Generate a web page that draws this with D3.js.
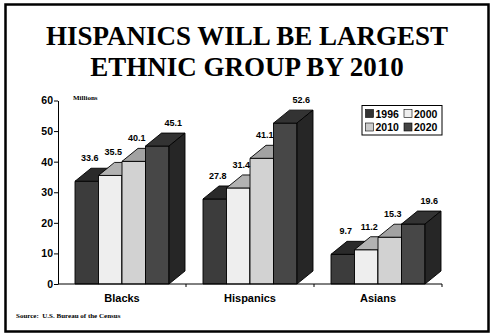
<!DOCTYPE html>
<html>
<head>
<meta charset="utf-8">
<script src="https://cdn.jsdelivr.net/npm/d3@7/dist/d3.min.js"></script>
<style>
  html, body { margin: 0; padding: 0; background: #fff; }
  svg { display: block; }
  .serif { font-family: "Liberation Serif", Tinos, "Nimbus Roman", "Times New Roman", Times, "DejaVu Serif", serif; font-weight: bold; }
  .sans { font-family: "Liberation Sans", Arimo, Arial, Helvetica, sans-serif; font-weight: bold; }
</style>
</head>
<body>
<svg id="chart" width="491" height="333"></svg>
<script>
// Population by group, millions
const categories = ["Blacks", "Hispanics", "Asians"];
const years = ["1996", "2000", "2010", "2020"];
const values1996 = [33.6, 27.8, 9.7];
const values2000 = [35.5, 31.4, 11.2];
const values2010 = [40.1, 41.1, 15.3];
const values2020 = [45.1, 52.6, 19.6];
const yTicks = [0, 10, 20, 30, 40, 50, 60];

const seriesValues = [values1996, values2000, values2010, values2020];

// face shading per series: front, top, side
const frontFill = ["#3c3c3c", "#eeeeee", "#d2d2d2", "#474747"];
const topFill   = ["#2a2a2a", "#b2b2b2", "#a2a2a2", "#333333"];
const sideFill  = ["#222222", "#9a9a9a", "#8c8c8c", "#262626"];
const legendFill = ["#333333", "#eeeeee", "#cccccc", "#444444"];

const svg = d3.select("#chart");

// outer frame
svg.append("rect")
  .attr("x", 5.5).attr("y", 4.5)
  .attr("width", 483).attr("height", 327)
  .attr("fill", "#fff").attr("stroke", "#000").attr("stroke-width", 2.5);

// title
const title = svg.append("text")
  .attr("class", "serif")
  .attr("text-anchor", "middle")
  .attr("font-size", 27)
  .attr("fill", "#000");
title.append("tspan").attr("x", 247).attr("y", 45).text("HISPANICS WILL BE LARGEST");
title.append("tspan").attr("x", 247).attr("y", 76).text("ETHNIC GROUP BY 2010");

// scales
const x = d3.scaleBand().domain(categories).range([58, 442]).padding(0);
const inner = d3.scaleBand().domain(years).range([17, 17 + 94]).padding(0);
const y = d3.scaleLinear().domain([0, 60]).range([284, 100.5]);

const dx = 16, dy = 13;

// bars
const plot = svg.append("g");
categories.forEach((cat, ci) => {
  years.forEach((yr, si) => {
    const v = seriesValues[si][ci];
    const x0 = x(cat) + inner(yr);
    const w = inner.bandwidth();
    const yt = y(v), yb = y(0);
    const g = plot.append("g").attr("stroke", "#000").attr("stroke-width", 0.9).attr("stroke-linejoin", "round");
    g.append("rect")
      .attr("x", x0).attr("y", yt).attr("width", w).attr("height", yb - yt)
      .attr("fill", frontFill[si]);
    g.append("path")
      .attr("d", `M${x0},${yt}L${x0 + dx},${yt - dy}L${x0 + w + dx},${yt - dy}L${x0 + w},${yt}Z`)
      .attr("fill", topFill[si]);
    g.append("path")
      .attr("d", `M${x0 + w},${yt}L${x0 + w + dx},${yt - dy}L${x0 + w + dx},${yb - dy}L${x0 + w},${yb}Z`)
      .attr("fill", sideFill[si]);
  });
});

// value labels
categories.forEach((cat, ci) => {
  years.forEach((yr, si) => {
    const v = seriesValues[si][ci];
    const cx = x(cat) + inner(yr) + inner.bandwidth() / 2 + (si === 3 ? dx : 3);
    svg.append("text")
      .attr("class", "sans")
      .attr("x", cx).attr("y", y(v) - dy - 7)
      .attr("text-anchor", "middle")
      .attr("font-size", 9)
      .attr("fill", "#000")
      .text(v.toFixed(1));
  });
});

// y axis
const yAxis = svg.append("g")
  .attr("transform", "translate(58,0)")
  .call(d3.axisLeft(y).tickValues(yTicks).tickSize(4).tickSizeOuter(0).tickPadding(1));
yAxis.attr("font-family", null).attr("font-size", null);
yAxis.select(".domain").attr("stroke", "#000");
yAxis.selectAll(".tick line").attr("stroke", "#000");
yAxis.selectAll("text")
  .attr("class", "sans").attr("font-size", 10.5).attr("fill", "#000");

// category axis along the baseline
const xAxis = svg.append("g")
  .attr("transform", `translate(0,${y(0)})`)
  .call(d3.axisBottom(x).tickSize(0).tickPadding(10));
xAxis.attr("font-family", null).attr("font-size", null);
xAxis.select(".domain").attr("stroke", "#000").attr("d", `M58,0H442`);
xAxis.selectAll("text")
  .attr("class", "sans").attr("font-size", 11).attr("fill", "#000");
// small boundary ticks between categories
categories.forEach(cat => {
  const bx = x(cat) + x.bandwidth();
  xAxis.append("line")
    .attr("x1", bx).attr("x2", bx).attr("y1", 0).attr("y2", 3)
    .attr("stroke", "#000");
});

// unit note
svg.append("text")
  .attr("class", "serif")
  .attr("x", 73).attr("y", 99.5)
  .attr("font-size", 7)
  .text("Millions");

// legend
const legend = svg.append("g");
legend.append("rect")
  .attr("x", 362).attr("y", 105.5).attr("width", 80).attr("height", 29.5)
  .attr("fill", "#fff").attr("stroke", "#000").attr("stroke-width", 1);
years.forEach((yr, i) => {
  const col = i % 2, row = Math.floor(i / 2);
  const lx = 365.5 + col * 38.5, ly = 109.5 + row * 13.5;
  legend.append("rect")
    .attr("x", lx).attr("y", ly).attr("width", 8).attr("height", 8)
    .attr("fill", legendFill[i]).attr("stroke", "#000").attr("stroke-width", 0.6);
  legend.append("text")
    .attr("class", "sans")
    .attr("x", lx + 10).attr("y", ly + 8)
    .attr("font-size", 10.5)
    .text(yr);
});

// source note
svg.append("text")
  .attr("class", "serif")
  .attr("x", 16).attr("y", 318)
  .attr("font-size", 7)
  .attr("xml:space", "preserve")
  .text("Source:  U.S. Bureau of the Census");
</script>
</body>
</html>
